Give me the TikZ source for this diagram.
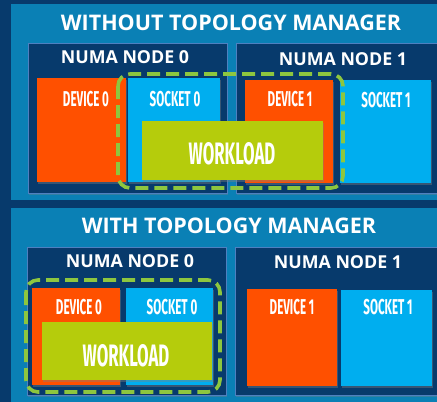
\documentclass[tikz,border=0pt]{standalone}
\usepackage{fontspec}
\usetikzlibrary{fit,shadows}
\newfontfamily\titlefont{Open Sans}
\newfontfamily\condfont[FakeStretch=0.54]{Fira Sans}
\definecolor{navy}{HTML}{073A6C}
\definecolor{panelblue}{HTML}{0A80B5}
\definecolor{numaedge}{HTML}{4F80C0}
\definecolor{devorange}{HTML}{FF5000}
\definecolor{sockblue}{HTML}{00AEEF}
\definecolor{workgreen}{HTML}{B5CC0C}
\definecolor{dashgreen}{HTML}{8DC63F}
\tikzset{
  panel/.style={fill=panelblue, draw=none, inner sep=0pt},
  numabox/.style={fill=navy, draw=numaedge, line width=0.9pt, inner sep=0pt,
    drop shadow={shadow xshift=1pt, shadow yshift=-1.5pt, opacity=0.35}},
  unitbox/.style={draw=none, inner sep=0pt,
    drop shadow={shadow xshift=1.2pt, shadow yshift=-1.5pt, opacity=0.4}},
  devbox/.style={unitbox, fill=devorange},
  sockbox/.style={unitbox, fill=sockblue},
  workbox/.style={unitbox, fill=workgreen},
  groupline/.style={draw=dashgreen, line width=3.6pt, dash pattern=on 13pt off 6pt, rounded corners=12pt},
  titletext/.style={text=white, font=\titlefont\bfseries\fontsize{21.5}{21.5}\selectfont, inner sep=0pt},
  numatext/.style={text=white, font=\titlefont\bfseries\fontsize{17.8}{17.8}\selectfont, inner sep=0pt},
  unittext/.style={text=white, font=\condfont\bfseries\fontsize{21.5}{21.5}\selectfont, inner sep=0pt},
  worktext/.style={text=white, font=\condfont\bfseries\fontsize{31}{31}\selectfont, inner sep=0pt},
}
\begin{document}
\begin{tikzpicture}[x=1pt,y=-1pt]
\useasboundingbox (0,0) rectangle (437,402);
\fill[navy] (0,0) rectangle (437,402);

% upper panel: no topology manager
\node[panel, fit={(11,4) (440,200)}] (ptop) {};
\node[titletext] (ttop) at (231,23) {WITHOUT TOPOLOGY MANAGER};
\node[numabox, fit={(28,43) (227,193)}] (n0t) {};
\node[numabox, fit={(236,43) (445,193)}] (n1t) {};
\node[numatext] (n0tl) at (125,57) {NUMA NODE 0};
\node[numatext] (n1tl) at (343,59) {NUMA NODE 1};
\node[devbox, fit={(37,78) (126,182)}] (d0t) {};
\node[sockbox, fit={(128,78) (220,182)}] (s0t) {};
\node[devbox, fit={(245,80) (333,183)}] (d1t) {};
\node[sockbox, fit={(340,80) (431,183)}] (s1t) {};
\node[unittext] (d0tl) at (86,99) {DEVICE 0};
\node[unittext] (s0tl) at (175,99) {SOCKET 0};
\node[unittext] (d1tl) at (290,99) {DEVICE 1};
\node[unittext] (s1tl) at (386,100) {SOCKET 1};
\node[workbox, fit={(142,121) (323,180)}] (wt) {};
\node[worktext] (wtl) at (232,154) {WORKLOAD};
\draw[groupline] (118,74) rectangle (343,188);

% lower panel: with topology manager
\node[panel, fit={(11,208) (440,405)}] (pbot) {};
\node[titletext] (tbot) at (229,226) {WITH TOPOLOGY MANAGER};
\node[numabox, fit={(27,247) (226,395)}] (n0b) {};
\node[numabox, fit={(235,247) (445,395)}] (n1b) {};
\node[numatext] (n0bl) at (130,261) {NUMA NODE 0};
\node[numatext] (n1bl) at (338,262) {NUMA NODE 1};
\node[devbox, fit={(32,288) (120,385)}] (d0b) {};
\node[sockbox, fit={(126,288) (213,385)}] (s0b) {};
\node[devbox, fit={(247,289) (337,386)}] (d1b) {};
\node[sockbox, fit={(341,290) (432,386)}] (s1b) {};
\node[unittext] (d0bl) at (79,307) {DEVICE 0};
\node[unittext] (s0bl) at (172,307) {SOCKET 0};
\node[unittext] (d1bl) at (292,307) {DEVICE 1};
\node[unittext] (s1bl) at (388,307) {SOCKET 1};
\node[workbox, fit={(42,322) (212,380)}] (wb) {};
\node[worktext] (wbl) at (126,356) {WORKLOAD};
\draw[groupline] (26,280) rectangle (220,392);
\end{tikzpicture}
\end{document}
